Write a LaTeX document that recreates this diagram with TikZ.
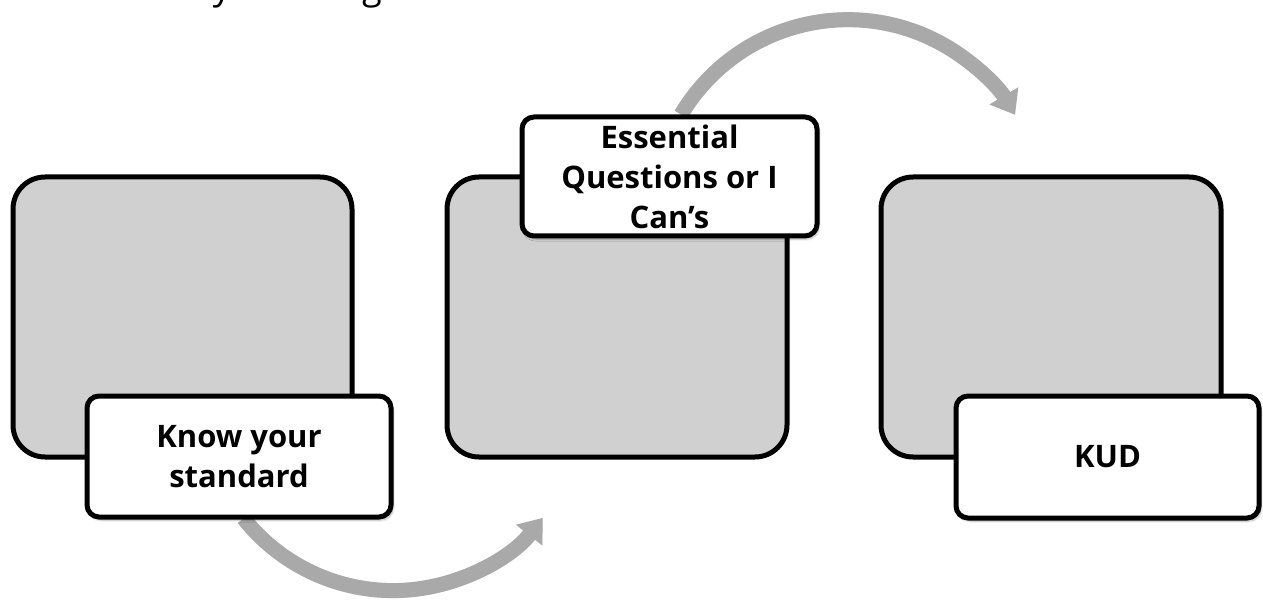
\documentclass[tikz,border=0pt]{standalone}
\usepackage{fontspec}
\setmainfont{Open Sans}
\usetikzlibrary{arrows.meta,shadows.blur}

\definecolor{panelgray}{HTML}{D0D0D0}
\definecolor{flowgray}{HTML}{A9A9A9}

\tikzset{
  panel/.style={draw=black, line width=5pt, fill=panelgray,
    rounded corners=32pt, inner sep=0pt, outer sep=0pt},
  caption/.style={draw=black, line width=5pt, fill=white,
    rounded corners=12pt, inner sep=0pt, outer sep=0pt, align=center,
    font=\bfseries\fontsize{31}{40}\selectfont,
    blur shadow={shadow xshift=2pt, shadow yshift=-3pt,
      shadow blur steps=8, shadow opacity=30}},
  flow/.style={draw=flowgray, line width=15pt,
    -{Triangle[width=32pt,length=22pt]}},
  flowshade/.style={draw=black, opacity=0.10, line width=15pt,
    -{Triangle[width=32pt,length=22pt]}, shift={(2,3)}},
  heading/.style={anchor=base, inner sep=0pt,
    font=\fontsize{36}{40}\selectfont},
}

\begin{document}
\begin{tikzpicture}[x=1pt,y=-1pt]
  \useasboundingbox (0,0) rectangle (1263,612);

  % heading line above, mostly outside the page
  \begin{scope}
    \clip (0,0) rectangle (1263,612);
    \node[heading] (hy) at (222,0) {y};
    \node[heading] (hg) at (372,0) {g};
  \end{scope}

  % three grey panels
  \node[panel, minimum width=339, minimum height=280] (p1) at (182.5,317) {};
  \node[panel, minimum width=340, minimum height=280] (p2) at (617,317) {};
  \node[panel, minimum width=340, minimum height=280] (p3) at (1051,317) {};

  % curved flow arrows between the steps
  \coordinate (b1) at (393,400);
  \coordinate (b2) at (848,214);
  \draw[flowshade] (b1) ++(141.6:190.6) arc[start angle=141.6, end angle=38.2, radius=190.6];
  \draw[flow] (b1) ++(141.6:190.6) arc[start angle=141.6, end angle=38.2, radius=190.6];
  \draw[flowshade] (b2) ++(210.8:194.3) arc[start angle=210.8, end angle=329.3, radius=194.3];
  \draw[flow] (b2) ++(210.8:194.3) arc[start angle=210.8, end angle=329.3, radius=194.3];

  % step captions
  \node[caption, minimum width=304, minimum height=121] (c1) at (239,456.5)
    {Know your\\standard};
  \node[caption, minimum width=295, minimum height=119] (c2) at (669.5,176.5)
    {Essential\\Questions or I\\Can’s};
  \node[caption, minimum width=303, minimum height=122] (c3) at (1107.5,457)
    {KUD};
\end{tikzpicture}
\end{document}
